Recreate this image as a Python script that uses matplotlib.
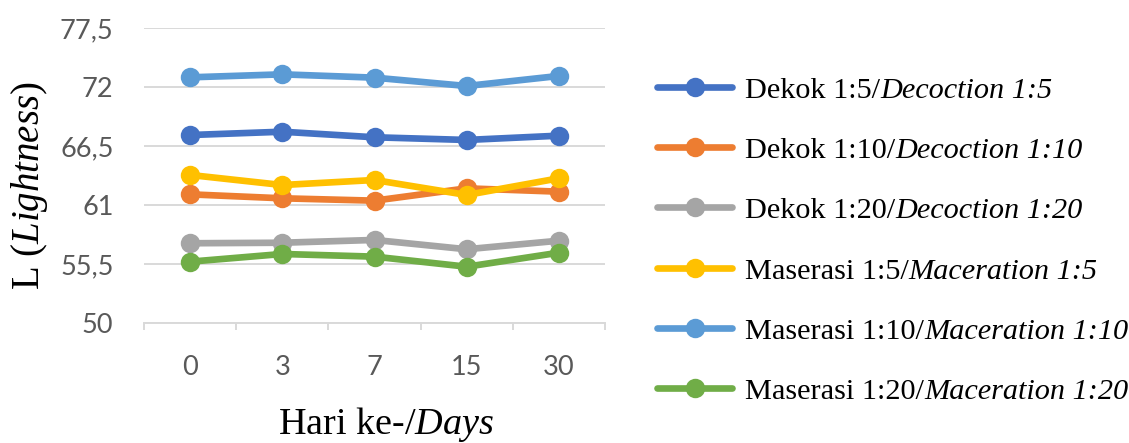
import matplotlib
matplotlib.use("Agg")
import matplotlib.pyplot as plt
from matplotlib.lines import Line2D
from matplotlib.ticker import FixedLocator, NullFormatter

# Sampling days and lightness (L*) readings for each extract
days = ["0", "3", "7", "15", "30"]
dekok_1_5 = [67.53, 67.84, 67.32, 67.07, 67.47]
dekok_1_10 = [61.99, 61.62, 61.40, 62.55, 62.24]
dekok_1_20 = [57.42, 57.47, 57.73, 56.86, 57.66]
maserasi_1_5 = [63.80, 62.86, 63.33, 61.93, 63.49]
maserasi_1_10 = [72.92, 73.20, 72.89, 72.11, 73.05]
maserasi_1_20 = [55.70, 56.42, 56.17, 55.23, 56.54]

# Legend text: Indonesian name (upright) / English name (italic)
names_id = ["Dekok 1:5/", "Dekok 1:10/", "Dekok 1:20/",
            "Maserasi 1:5/", "Maserasi 1:10/", "Maserasi 1:20/"]
names_en = ["Decoction 1:5", "Decoction 1:10", "Decoction 1:20",
            "Maceration 1:5", "Maceration 1:10", "Maceration 1:20"]

series_values = [dekok_1_5, dekok_1_10, dekok_1_20,
                 maserasi_1_5, maserasi_1_10, maserasi_1_20]
colors = ["#4472C4", "#ED7D31", "#A5A5A5", "#FFC000", "#5B9BD5", "#70AD47"]

y_ticks = [50, 55.5, 61, 66.5, 72, 77.5]
y_tick_labels = ["50", "55,5", "61", "66,5", "72", "77,5"]

plt.rcParams["mathtext.fontset"] = "custom"
plt.rcParams["mathtext.rm"] = "Liberation Serif"
plt.rcParams["mathtext.it"] = "Liberation Serif:italic"

W, H = 1129, 443
fig = plt.figure(figsize=(W / 100, H / 100), dpi=100)
ax = fig.add_axes([144 / W, 1 - 322.7 / H, 461 / W, 294.4 / H])

LW, MS = 4.8, 14
x = list(range(len(days)))
for vals, col in zip(series_values, colors):
    ax.plot(x, vals, color=col, lw=LW, marker="o", markersize=MS,
            markeredgewidth=0, solid_capstyle="round", clip_on=False)

ax.set_xlim(-0.5, len(days) - 0.5)
ax.set_ylim(50, 77.5)

# Horizontal gridlines
ax.set_yticks(y_ticks)
ax.set_yticklabels(y_tick_labels)
ax.yaxis.grid(True, color="#D9D9D9", lw=1.4)
ax.set_axisbelow(True)

# Category axis with separators between categories
ax.set_xticks(x)
ax.set_xticklabels(days)
ax.xaxis.set_minor_locator(FixedLocator([i - 0.5 for i in range(len(days) + 1)]))
ax.xaxis.set_minor_formatter(NullFormatter())
ax.tick_params(axis="x", which="major", length=0, pad=23)
ax.tick_params(axis="x", which="minor", length=5, width=1.4, color="#D9D9D9",
               direction="out")
ax.tick_params(axis="y", length=0, pad=22)
for lbl in ax.get_xticklabels() + ax.get_yticklabels():
    lbl.set_fontfamily("Lato")
    lbl.set_fontsize(19.5)
    lbl.set_color("#595959")

for side in ["left", "right", "top"]:
    ax.spines[side].set_visible(False)
ax.spines["bottom"].set_color("#D9D9D9")
ax.spines["bottom"].set_linewidth(1.4)

# Axis titles
fig.text(278 / W, 1 - 434 / H, r"Hari ke-/$\it{Days}$", ha="left", va="baseline",
         fontsize=27.5, family="Liberation Serif")
fig.text(30 / W, 1 - 186 / H, r"L ($\it{Lightness}$)", ha="center", va="center",
         rotation=90, fontsize=28, family="Liberation Serif")

# Legend, drawn entry by entry so the English part can be italic
renderer = fig.canvas.get_renderer()
LEG_SIZE = 21.8
row0, row_step = 87.0, 60.2
for i, (col, nid, nen) in enumerate(zip(colors, names_id, names_en)):
    yc = row0 + i * row_step
    yf = 1 - yc / H
    fig.add_artist(Line2D([657 / W, 694.5 / W, 732 / W], [yf, yf, yf],
                          transform=fig.transFigure, color=col, lw=LW,
                          marker="o", markersize=MS, markevery=[1],
                          markeredgewidth=0, solid_capstyle="round"))
    yb = 1 - (yc + 11) / H
    t1 = fig.text(745 / W, yb, nid, family="Liberation Serif", size=LEG_SIZE,
                  ha="left", va="baseline")
    bb = t1.get_window_extent(renderer)
    fig.text(bb.x1 / W, yb, nen, family="Liberation Serif", style="italic",
             size=LEG_SIZE, ha="left", va="baseline")

fig.savefig("out.png", dpi=100)
